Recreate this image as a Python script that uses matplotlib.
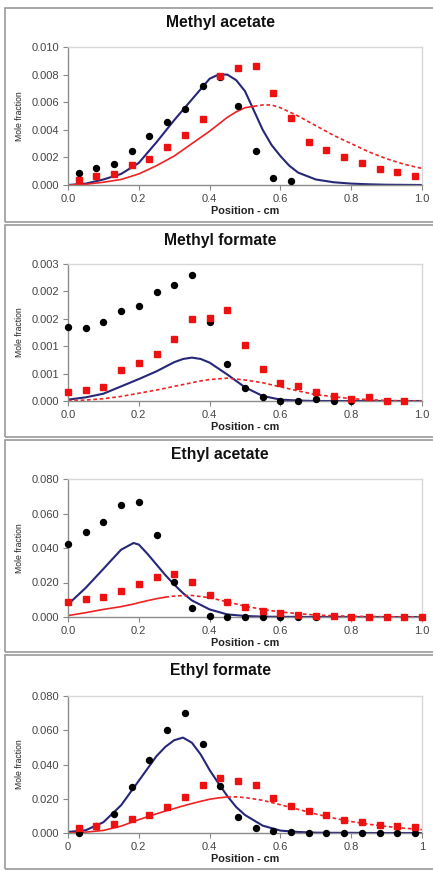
import matplotlib
matplotlib.use("Agg")
import matplotlib.pyplot as plt
from matplotlib.patches import Rectangle

plt.rcParams['font.family'] = ['Liberation Sans', 'DejaVu Sans']

W, H = 433, 871

# ---- Methyl acetate
ma_exp_x = [0.03, 0.08, 0.13, 0.18, 0.23, 0.28, 0.33, 0.38, 0.43, 0.48,
            0.53, 0.58, 0.63, 0.68, 0.73, 0.78, 0.83, 0.88, 0.93, 0.98]
ma_black = [0.00087, 0.00123, 0.00149, 0.00248, 0.00358, 0.00457, 0.00548,
            0.00721, 0.00784, 0.0057, 0.00248, 0.00053, 0.00026]
ma_red = [0.00038, 0.00063, 0.00079, 0.00147, 0.00185, 0.00276, 0.00365,
          0.00481, 0.00788, 0.00851, 0.00861, 0.0067, 0.00488, 0.00308,
          0.00257, 0.002, 0.00159, 0.00115, 0.00096, 0.00063]
ma_cx = [0, 0.05, 0.1, 0.15, 0.2, 0.25, 0.3, 0.35, 0.4, 0.425, 0.45, 0.475,
         0.5, 0.525, 0.55, 0.575, 0.6, 0.625, 0.65, 0.7, 0.75, 0.8, 0.85,
         0.9, 0.95, 1.0]
ma_blue = [0, 0.0001, 0.0004, 0.0008, 0.0016, 0.0031, 0.0047, 0.0062, 0.0077,
           0.008, 0.008, 0.0076, 0.0068, 0.0054, 0.004, 0.0029, 0.0021,
           0.0014, 0.0009, 0.0004, 0.0002, 0.0001, 0.00005, 0.00002,
           0.00001, 0]
ma_rline = [0, 0.00005, 0.0002, 0.0004, 0.0008, 0.0014, 0.0021, 0.003, 0.0039,
            0.0044, 0.0049, 0.0053, 0.0056, 0.0057, 0.0058, 0.0058, 0.0056,
            0.0053, 0.005, 0.0043, 0.0036, 0.003, 0.0024, 0.0019, 0.0015,
            0.0012]

# ---- Methyl formate
mf_exp_x = [0.0, 0.05, 0.1, 0.15, 0.2, 0.25, 0.3, 0.35, 0.4, 0.45,
            0.5, 0.55, 0.6, 0.65, 0.7, 0.75, 0.8, 0.85, 0.9, 0.95]
mf_black = [0.00163, 0.0016, 0.00173, 0.00197, 0.00208, 0.00238, 0.00253,
            0.00277, 0.00173, 0.0008, 0.00028, 0.00008, 0.0, 0.00001, 0.00004,
            0.0, 0.0]
mf_red = [0.0002, 0.00025, 0.0003, 0.00067, 0.00084, 0.00103, 0.00135, 0.00179,
          0.00181, 0.00199, 0.00122, 0.00069, 0.0004, 0.00032, 0.00019,
          0.00011, 0.00005, 0.00008, 0.00001, 0.0]
mf_cx = [0, 0.05, 0.1, 0.15, 0.2, 0.25, 0.3, 0.325, 0.35, 0.375, 0.4, 0.45,
         0.5, 0.55, 0.6, 0.65, 0.7, 0.8, 0.9, 1.0]
mf_blue = [0.00003, 0.00008, 0.00016, 0.00032, 0.00048, 0.00065, 0.00085,
           0.00092, 0.00095, 0.00092, 0.00084, 0.00058, 0.0003, 0.00011,
           0.00003, 0.00001, 0, 0, 0, 0]
mf_rline = [0.00001, 0.00002, 0.00005, 0.0001, 0.00017, 0.00024, 0.00032,
            0.00036, 0.0004, 0.00044, 0.00047, 0.0005, 0.00046, 0.0004,
            0.00031, 0.00022, 0.00014, 0.00005, 0.00001, 0]

# ---- Ethyl acetate
ea_exp_x = [0.0, 0.05, 0.1, 0.15, 0.2, 0.25, 0.3, 0.35, 0.4, 0.45, 0.5,
            0.55, 0.6, 0.65, 0.7, 0.75, 0.8, 0.85, 0.9, 0.95, 1.0]
ea_black = [0.0423, 0.0494, 0.0552, 0.065, 0.0665, 0.0473, 0.0204, 0.005,
            0.0006, 0, 0, 0, 0, 0, 0]
ea_red = [0.0085, 0.0102, 0.0117, 0.0152, 0.019, 0.0231, 0.0252, 0.0204,
          0.0125, 0.0087, 0.0058, 0.0035, 0.0021, 0.0012, 0.0008, 0.0004,
          0.0002, 0.0001, 0, 0, 0]
ea_cx = [0, 0.05, 0.1, 0.125, 0.15, 0.185, 0.2, 0.225, 0.25, 0.275, 0.3,
         0.325, 0.35, 0.4, 0.45, 0.5, 0.55, 0.6, 0.7, 0.8, 0.9, 1.0]
ea_blue = [0.0073, 0.0169, 0.0279, 0.0335, 0.039, 0.0429, 0.042, 0.0365,
           0.0304, 0.0243, 0.0188, 0.0138, 0.0096, 0.0044, 0.0015, 0.0006,
           0.0002, 0.0001, 0, 0, 0, 0]
ea_rline = [0.0008, 0.0025, 0.0044, 0.0052, 0.006, 0.0075, 0.0083, 0.0095,
            0.0106, 0.0115, 0.0121, 0.0124, 0.0125, 0.0112, 0.0088, 0.0063,
            0.0044, 0.0029, 0.0011, 0.0004, 0.0001, 0]

# ---- Ethyl formate
ef_exp_x = [0.03, 0.08, 0.13, 0.18, 0.23, 0.28, 0.33, 0.38, 0.43, 0.48,
            0.53, 0.58, 0.63, 0.68, 0.73, 0.78, 0.83, 0.88, 0.93, 0.98]
ef_black = [0.0, 0.004, 0.011, 0.0266, 0.0429, 0.0604, 0.0703, 0.0522, 0.0274,
            0.0093, 0.0029, 0.001, 0.0004, 0, 0, 0, 0, 0, 0, 0]
ef_red = [0.0029, 0.0043, 0.0052, 0.0082, 0.0107, 0.0153, 0.0208, 0.0278,
          0.032, 0.0305, 0.0282, 0.0202, 0.0159, 0.013, 0.0103, 0.0076,
          0.0062, 0.0049, 0.0043, 0.0033]
ef_cx = [0, 0.05, 0.1, 0.15, 0.2, 0.25, 0.275, 0.3, 0.325, 0.35, 0.375, 0.4,
         0.425, 0.45, 0.475, 0.5, 0.55, 0.6, 0.65, 0.7, 0.75, 0.8, 0.85, 0.9,
         0.95, 1.0]
ef_blue = [0.0006, 0.0016, 0.0063, 0.0162, 0.0305, 0.0449, 0.0503, 0.0542,
           0.0557, 0.0527, 0.0458, 0.0368, 0.029, 0.0216, 0.0152, 0.0105,
           0.0043, 0.0014, 0.0006, 0.0002, 0.0001, 0.0001, 0, 0, 0, 0]
ef_rline = [0, 0.0005, 0.0015, 0.004, 0.0078, 0.0112, 0.0128, 0.0143, 0.0158,
            0.0172, 0.0185, 0.0197, 0.0205, 0.021, 0.0211, 0.0207, 0.0191,
            0.0165, 0.0138, 0.0111, 0.0087, 0.0067, 0.0051, 0.0038, 0.0028,
            0.002]

x_ticks = [0, 0.2, 0.4, 0.6, 0.8, 1.0]
x_labels = ['0.0', '0.2', '0.4', '0.6', '0.8', '1.0']
x_labels_ef = ['0', '0.2', '0.4', '0.6', '0.8', '1']

panels = [
    dict(title='Methyl acetate', ex=ma_exp_x, bk=ma_black, rd=ma_red,
         cx=ma_cx, bl=ma_blue, rl=ma_rline, split=0.525, ymax=0.010,
         yt=[0, 0.002, 0.004, 0.006, 0.008, 0.010],
         yl=['0.000', '0.002', '0.004', '0.006', '0.008', '0.010'],
         xl=x_labels, box=(8, 222), ax=(47, 185)),
    dict(title='Methyl formate', ex=mf_exp_x, bk=mf_black, rd=mf_red,
         cx=mf_cx, bl=mf_blue, rl=mf_rline, split=0.0, ymax=0.003,
         yt=[0, 0.0006, 0.0012, 0.0018, 0.0024, 0.003],
         yl=['0.000', '0.001', '0.001', '0.002', '0.002', '0.003'],
         xl=x_labels, box=(225, 437), ax=(264, 401)),
    dict(title='Ethyl acetate', ex=ea_exp_x, bk=ea_black, rd=ea_red,
         cx=ea_cx, bl=ea_blue, rl=ea_rline, split=0.275, ymax=0.080,
         yt=[0, 0.02, 0.04, 0.06, 0.08],
         yl=['0.000', '0.020', '0.040', '0.060', '0.080'],
         xl=x_labels, box=(440, 652), ax=(479, 617)),
    dict(title='Ethyl formate', ex=ef_exp_x, bk=ef_black, rd=ef_red,
         cx=ef_cx, bl=ef_blue, rl=ef_rline, split=0.45, ymax=0.080,
         yt=[0, 0.02, 0.04, 0.06, 0.08],
         yl=['0.000', '0.020', '0.040', '0.060', '0.080'],
         xl=x_labels_ef, box=(655, 869), ax=(696, 833)),
]

fig = plt.figure(figsize=(W / 100, H / 100), dpi=100)
fig.patch.set_facecolor('white')

AX_L, AX_R = 68, 422
for p in panels:
    bt, bb = p['box']
    fig.add_artist(Rectangle((5 / W, 1 - bb / H), 1.2, (bb - bt) / H,
                             transform=fig.transFigure, fill=False,
                             edgecolor='#9a9a9a', lw=1.2))
    t, b = p['ax']
    ax = fig.add_axes([AX_L / W, 1 - b / H, (AX_R - AX_L) / W, (b - t) / H])
    n = len(p['bk'])
    ax.plot(p['ex'][:n], p['bk'], 'o', color='black', ms=4.3, zorder=3,
            clip_on=False)
    ax.plot(p['ex'], p['rd'], 's', color='#ee1111', ms=4.4, zorder=4,
            clip_on=False)
    ax.plot(p['cx'], p['bl'], '-', color='#27277a', lw=1.5, zorder=2,
            solid_joinstyle='round')
    k = p['cx'].index(p['split']) if p['split'] > 0 else 0
    if k > 0:
        ax.plot(p['cx'][:k + 1], p['rl'][:k + 1], '-', color='#ee2222',
                lw=1.2, zorder=2, solid_joinstyle='round')
    ax.plot(p['cx'][k:], p['rl'][k:], '--', color='#ee2222', lw=1.2,
            dashes=(2.2, 1.6), zorder=2)
    ax.set_xlim(0, 1.0)
    ax.set_ylim(0, p['ymax'])
    ax.set_xticks(x_ticks)
    ax.set_xticklabels(p['xl'])
    ax.set_yticks(p['yt'])
    ax.set_yticklabels(p['yl'])
    ax.tick_params(direction='out', length=3.5, width=0.8, color='#888888',
                   labelsize=8, labelcolor='#444444', pad=3)
    for s in ['left', 'bottom']:
        ax.spines[s].set_color('#8c8c8c')
        ax.spines[s].set_linewidth(1.0)
    for s in ['top', 'right']:
        ax.spines[s].set_color('#d8d8d8')
        ax.spines[s].set_linewidth(1.0)
    fig.text(220 / W, 1 - (bt + 15) / H, p['title'], ha='center',
             va='center', fontsize=11.3, fontweight='bold', color='#111111')
    fig.text((AX_L + AX_R) / 2 / W, 1 - (b + 26) / H, 'Position - cm',
             ha='center', va='center', fontsize=7.8, fontweight='bold',
             color='#222222')
    fig.text(19 / W, 1 - (t + b) / 2 / H, 'Mole fraction', rotation=90,
             ha='center', va='center', fontsize=6.2, color='#222222')

fig.savefig('out.png', dpi=100, facecolor='white')
